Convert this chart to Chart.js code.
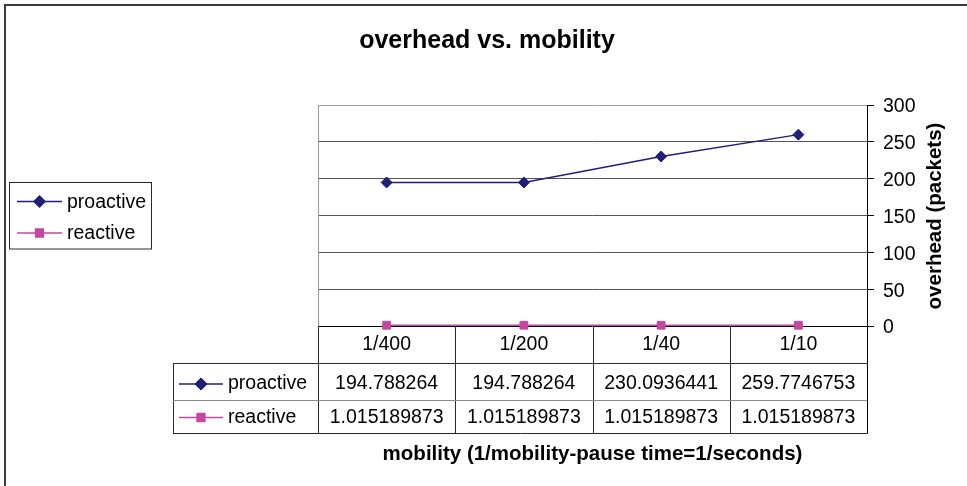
<!DOCTYPE html>
<html>
<head>
<meta charset="utf-8">
<script src="https://cdn.jsdelivr.net/npm/chart.js@4/dist/chart.umd.min.js"></script>
<style>
  html, body { margin: 0; padding: 0; background: #fff; }
  #wrap { width: 967px; height: 486px; }
</style>
</head>
<body>
<div id="wrap"><canvas id="overhead"></canvas></div>
<script>
const categories = ['1/400', '1/200', '1/40', '1/10']
const proactive = [194.788264, 194.788264, 230.0936441, 259.7746753]
const reactive = [1.015189873, 1.015189873, 1.015189873, 1.015189873]
const yTicks = [0, 50, 100, 150, 200, 250, 300]

const FONT = 'Liberation Sans, Arial, sans-serif'
const proColor = '#1f1f78'
const reaColor = '#c4489f'

const series = [
  { label: 'proactive', data: proactive, color: proColor, style: 'rectRot' },
  { label: 'reactive', data: reactive, color: reaColor, style: 'rect' }
]

// draw a legend key (line + marker) the way Excel does
function drawKey(ctx, x0, x1, y, s) {
  ctx.save()
  ctx.strokeStyle = s.color
  ctx.lineWidth = 1.5
  ctx.beginPath()
  ctx.moveTo(x0, y)
  ctx.lineTo(x1, y)
  ctx.stroke()
  ctx.fillStyle = s.color
  Chart.helpers.drawPoint(ctx, { pointStyle: s.style, radius: 5.5, borderWidth: 1 }, (x0 + x1) / 2, y)
  ctx.fill()
  ctx.restore()
}

const extras = {
  id: 'extras',
  afterDraw(chart) {
    const ctx = chart.ctx
    const area = chart.chartArea
    const x = chart.scales.x
    const pts = categories.map((c, i) => x.getPixelForValue(i))
    const half = (pts[1] - pts[0]) / 2
    const cols = [area.left].concat(pts.map(p => p + half))
    cols[cols.length - 1] = area.right
    const rows = [area.bottom, 363, 400, 433]
    const labelLeft = 173

    ctx.save()
    // outer frame (top and left only are visible)
    ctx.strokeStyle = '#3a3a3a'
    ctx.lineWidth = 2
    ctx.beginPath()
    ctx.moveTo(5, 486)
    ctx.lineTo(5, 5)
    ctx.lineTo(967, 5)
    ctx.stroke()

    // plot area left border
    ctx.lineWidth = 1
    ctx.strokeStyle = '#999'
    ctx.beginPath()
    ctx.moveTo(Math.round(area.left) + 0.5, area.top)
    ctx.lineTo(Math.round(area.left) + 0.5, area.bottom)
    ctx.stroke()

    // data table grid
    ctx.strokeStyle = '#2a2a2a'
    ctx.beginPath()
    cols.forEach((cx, i) => {
      const px = Math.round(cx) + 0.5
      ctx.moveTo(px, rows[0])
      ctx.lineTo(px, rows[3])
    })
    ctx.moveTo(labelLeft + 0.5, rows[1])
    ctx.lineTo(labelLeft + 0.5, rows[3])
    ctx.moveTo(labelLeft, rows[1] + 0.5)
    ctx.lineTo(area.right, rows[1] + 0.5)
    ctx.moveTo(labelLeft, rows[3] + 0.5)
    ctx.lineTo(area.right + 1, rows[3] + 0.5)
    ctx.stroke()
    ctx.strokeStyle = '#8a8a8a'
    ctx.beginPath()
    ctx.moveTo(labelLeft, rows[2] + 0.5)
    ctx.lineTo(area.right, rows[2] + 0.5)
    ctx.stroke()
    // y axis continues down the table
    ctx.strokeStyle = '#000'
    ctx.beginPath()
    ctx.moveTo(Math.round(area.right) + 0.5, area.bottom)
    ctx.lineTo(Math.round(area.right) + 0.5, rows[3])
    ctx.stroke()

    // table text
    ctx.fillStyle = '#000'
    ctx.font = '19.5px ' + FONT
    ctx.textAlign = 'center'
    ctx.textBaseline = 'middle'
    const textY = [345, 384, 417.5]
    categories.forEach((c, i) => ctx.fillText(c, pts[i], textY[0]))
    series.forEach((s, r) => {
      s.data.forEach((v, i) => ctx.fillText(String(v), pts[i], textY[r + 1]))
    })
    ctx.textAlign = 'left'
    series.forEach((s, r) => {
      drawKey(ctx, 179, 223, textY[r + 1], s)
      ctx.fillStyle = '#000'
      ctx.fillText(s.label, 228, textY[r + 1])
    })

    // legend box
    ctx.strokeStyle = '#2a2a2a'
    ctx.strokeRect(9.5, 182.5, 142, 66.5)
    const legY = [201.5, 233]
    series.forEach((s, r) => {
      drawKey(ctx, 17, 62, legY[r], s)
      ctx.fillStyle = '#000'
      ctx.fillText(s.label, 67, legY[r] + 1)
    })

    // titles
    ctx.textAlign = 'center'
    ctx.textBaseline = 'alphabetic'
    ctx.font = 'bold 25px ' + FONT
    ctx.fillText('overhead vs. mobility', 487, 48)
    ctx.font = 'bold 20.5px ' + FONT
    ctx.fillText('mobility (1/mobility-pause time=1/seconds)', 592.5, 460)
    ctx.save()
    ctx.translate(935, 216)
    ctx.rotate(-Math.PI / 2)
    ctx.textBaseline = 'middle'
    ctx.fillText('overhead (packets)', 0, 0)
    ctx.restore()
    ctx.restore()
  }
}

new Chart(document.getElementById('overhead'), {
  type: 'line',
  data: {
    labels: categories,
    datasets: series.map(s => ({
      label: s.label,
      data: s.data,
      borderColor: s.color,
      backgroundColor: s.color,
      borderWidth: 1.5,
      pointStyle: s.style,
      pointRadius: 5.5,
      pointHoverRadius: 5.5,
      pointBorderWidth: 1,
      lineTension: 0,
      fill: false,
      clip: false
    }))
  },
  options: {
    responsive: true,
    maintainAspectRatio: false,
    animation: false,
    events: [],
    layout: { padding: { left: 318, right: 0, top: 105, bottom: 160 } },
    plugins: {
      legend: { display: false },
      title: { display: false },
      tooltip: { enabled: false }
    },
    scales: {
      x: { type: 'category', offset: true, display: false },
      y: {
        position: 'right',
        min: yTicks[0],
        max: yTicks[yTicks.length - 1],
        afterBuildTicks: scale => { scale.ticks = yTicks.map(v => ({ value: v })) },
        afterFit: scale => { scale.width = 100 },
        ticks: { color: '#000', padding: 9, labelOffset: 2, font: { family: FONT, size: 19.5 } },
        grid: {
          color: ctx => ctx.tick && ctx.tick.value === 300 ? '#a0a0a0' : (ctx.tick && ctx.tick.value === 0 ? '#000' : '#555'),
          tickColor: '#000',
          tickLength: 7
        },
        border: { display: true, color: '#000' }
      }
    }
  },
  plugins: [extras]
})
</script>
</body>
</html>
